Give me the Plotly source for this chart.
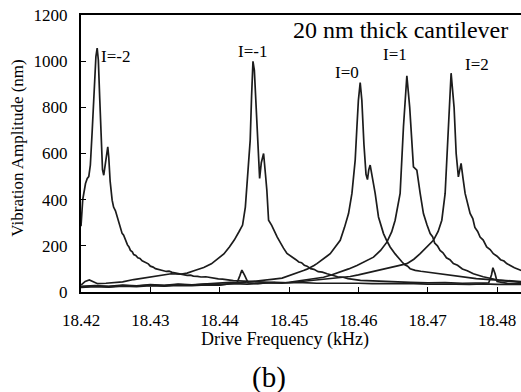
import plotly.graph_objects as go

# ---- data: (drive frequency kHz, vibration amplitude nm) ----
CURVE_I_M2 = [
    (18.4200, 285), (18.42025, 400), (18.42065, 470), (18.42090, 492), (18.42112, 500),
    (18.42135, 550), (18.42160, 690), (18.42190, 880), (18.42215, 1020), (18.42233, 1057),
    (18.42250, 1005), (18.42270, 840), (18.42290, 650), (18.42310, 530), (18.42328, 506),
    (18.42350, 560), (18.42372, 618), (18.42386, 629), (18.42400, 585), (18.42420, 480),
    (18.42449, 398), (18.42470, 368), (18.42497, 352), (18.42530, 318), (18.42560, 282),
    (18.42593, 254), (18.42615, 246), (18.42640, 222), (18.42670, 204), (18.42690, 196),
    (18.42713, 180), (18.42740, 174), (18.42760, 162), (18.42790, 158), (18.42820, 148),
    (18.42850, 145), (18.42882, 135), (18.42910, 131), (18.42940, 125), (18.42970, 122),
    (18.43000, 112), (18.43040, 108), (18.43073, 101), (18.43110, 99), (18.43150, 95),
    (18.43190, 92), (18.43230, 89), (18.43270, 90), (18.43314, 85), (18.43360, 82),
    (18.43400, 79), (18.43460, 76), (18.43530, 72), (18.43580, 73), (18.43620, 69),
    (18.43680, 68), (18.43730, 65), (18.43800, 66), (18.43865, 62), (18.43920, 60),
    (18.43980, 57), (18.44040, 56), (18.44090, 53), (18.44150, 52), (18.44197, 49),
    (18.44350, 47), (18.44480, 45), (18.44586, 43), (18.44700, 44), (18.44800, 41),
    (18.45000, 40), (18.45200, 41), (18.45400, 38), (18.45600, 39), (18.45800, 37),
    (18.46000, 38), (18.46200, 36), (18.46400, 37), (18.46600, 35), (18.46800, 36),
    (18.47000, 34), (18.47200, 35), (18.47400, 34), (18.47600, 33), (18.47800, 35),
    (18.48000, 33), (18.48200, 34), (18.48345, 33),
]

CURVE_I_M1 = [
    (18.4200, 30), (18.4206, 46), (18.4212, 52), (18.4218, 44), (18.4224, 36),
    (18.4236, 38), (18.4248, 40), (18.4260, 44), (18.4276, 54), (18.4290, 60),
    (18.4304, 68), (18.4318, 74), (18.4330, 79), (18.4343, 77), (18.4353, 82),
    (18.4365, 94), (18.4377, 106), (18.4388, 122), (18.4398, 146), (18.4406, 165),
    (18.4414, 195), (18.4421, 225), (18.4428, 262), (18.4433, 290), (18.4437, 368),
    (18.4441, 514), (18.4444, 658), (18.4446, 850), (18.4448, 999), (18.4450, 960),
    (18.4452, 820), (18.4455, 600), (18.44576, 492), (18.4460, 560), (18.44633, 600),
    (18.4466, 510), (18.4468, 441), (18.44705, 311), (18.4475, 289), (18.4483, 238),
    (18.4487, 214), (18.4492, 190), (18.4497, 167), (18.4502, 158), (18.4506, 151),
    (18.4510, 140), (18.4514, 130), (18.4518, 127), (18.4522, 116), (18.4526, 112),
    (18.4531, 101), (18.4536, 98), (18.4542, 88), (18.4548, 86), (18.4555, 79),
    (18.4562, 74), (18.4570, 66), (18.4578, 64), (18.4585, 58), (18.4603, 50),
    (18.4625, 47), (18.4650, 43), (18.4675, 42), (18.4700, 40), (18.4725, 41),
    (18.4750, 38), (18.4775, 39), (18.4788, 40), (18.4792, 75), (18.4794, 105),
    (18.4797, 80), (18.4800, 45), (18.4815, 37), (18.4835, 35),
]

CURVE_I_0 = [
    (18.4200, 24), (18.4220, 28), (18.4240, 25), (18.4260, 30), (18.4280, 27),
    (18.4300, 32), (18.4320, 29), (18.4340, 34), (18.4360, 31), (18.4380, 36),
    (18.4400, 38), (18.4415, 42), (18.4430, 40), (18.4445, 46), (18.4460, 50),
    (18.4475, 55), (18.4490, 60), (18.45018, 72), (18.4506, 75), (18.4510, 80),
    (18.4516, 88), (18.45209, 93), (18.4526, 99), (18.4530, 104), (18.4536, 115),
    (18.45402, 123), (18.4545, 133), (18.4550, 142), (18.4555, 156), (18.45594, 166),
    (18.4567, 195), (18.45738, 224), (18.4580, 280), (18.45858, 340), (18.45907, 427),
    (18.45954, 571), (18.45979, 716), (18.4600, 830), (18.46026, 907), (18.4605, 830),
    (18.4608, 640), (18.4611, 510), (18.46131, 487), (18.4615, 530), (18.4617, 550),
    (18.4620, 500), (18.46242, 427), (18.4629, 325), (18.46362, 253), (18.4641, 222),
    (18.46458, 195), (18.4653, 165), (18.46602, 137), (18.4663, 130), (18.4667, 118),
    (18.4671, 112), (18.46746, 101), (18.4682, 94), (18.4690, 90), (18.4700, 86),
    (18.4710, 82), (18.47178, 80), (18.4730, 72), (18.4745, 68), (18.47563, 64),
    (18.4770, 58), (18.4785, 55), (18.4804, 50), (18.4820, 47), (18.4835, 45),
]

CURVE_I_1 = [
    (18.4200, 20), (18.4220, 23), (18.4240, 21), (18.4260, 25), (18.4280, 23),
    (18.4300, 27), (18.4320, 25), (18.4340, 29), (18.4360, 27), (18.4380, 31),
    (18.4400, 30), (18.4418, 36), (18.4425, 40), (18.4429, 70), (18.4432, 95),
    (18.4436, 72), (18.4441, 40), (18.4455, 36), (18.4470, 40), (18.4490, 38),
    (18.45018, 43), (18.4515, 50), (18.4530, 56), (18.45498, 64), (18.4562, 75),
    (18.45738, 86), (18.4586, 100), (18.45979, 115), (18.4610, 132), (18.46218, 151),
    (18.4632, 180), (18.46411, 216), (18.4648, 260), (18.4653, 311), (18.46602, 427),
    (18.4665, 716), (18.46699, 937), (18.4674, 800), (18.46794, 542), (18.46843, 528),
    (18.46891, 427), (18.46938, 340), (18.4699, 290), (18.47035, 253), (18.4707, 240),
    (18.4710, 212), (18.4714, 200), (18.47178, 180), (18.4722, 170), (18.4727, 148),
    (18.4732, 140), (18.4737, 123), (18.4743, 116), (18.4750, 100), (18.4757, 92),
    (18.47658, 79), (18.4780, 66), (18.4795, 58), (18.48043, 50), (18.4820, 46),
    (18.4835, 42),
]

CURVE_I_2 = [
    (18.4200, 22), (18.4220, 26), (18.4240, 23), (18.4260, 28), (18.4280, 26),
    (18.4300, 30), (18.4320, 28), (18.4340, 32), (18.4360, 30), (18.4380, 34),
    (18.4400, 32), (18.4420, 36), (18.4440, 34), (18.4460, 38), (18.4480, 42),
    (18.4500, 40), (18.4520, 46), (18.4540, 50), (18.4560, 56), (18.45882, 67),
    (18.4600, 74), (18.4615, 84), (18.46314, 93), (18.4645, 104), (18.4658, 114),
    (18.46699, 123), (18.4680, 142), (18.46891, 166), (18.4699, 194), (18.47082, 224),
    (18.4715, 262), (18.47203, 311), (18.47251, 427), (18.47298, 716), (18.47337, 948),
    (18.4738, 800), (18.4741, 600), (18.47442, 499), (18.47481, 557), (18.4751, 490),
    (18.47539, 427), (18.47611, 340), (18.4765, 318), (18.4768, 280), (18.4772, 262),
    (18.47755, 238), (18.4780, 225), (18.4785, 195), (18.4790, 184), (18.47946, 166),
    (18.4800, 155), (18.4805, 140), (18.4810, 134), (18.48139, 123), (18.4825, 105),
    (18.4835, 93),
]

CURVES = [CURVE_I_M2, CURVE_I_M1, CURVE_I_0, CURVE_I_1, CURVE_I_2]

# peak labels: (text, freq, amplitude)
PEAK_LABELS = [
    ("I=-2", 18.4250, 1019),
    ("I=-1", 18.4447, 1042),
    ("I=0", 18.4584, 952),
    ("I=1", 18.4653, 1028),
    ("I=2", 18.4771, 984),
]

X_TICKS = [18.42, 18.43, 18.44, 18.45, 18.46, 18.47, 18.48]
Y_TICKS = [0, 200, 400, 600, 800, 1000, 1200]

FONT = "Liberation Serif"

fig = go.Figure()
for curve in CURVES:
    fx = [p[0] for p in curve]
    fy = [p[1] for p in curve]
    fig.add_trace(go.Scatter(x=fx, y=fy, mode="lines",
                             line=dict(color="#1c1c1c", width=1.7),
                             showlegend=False, hoverinfo="skip"))

for text, fx, fy in PEAK_LABELS:
    fig.add_annotation(x=fx, y=fy, xref="x", yref="y", text=text, showarrow=False,
                       font=dict(family=FONT, size=17, color="black"),
                       xanchor="center", yanchor="middle")

fig.add_annotation(x=18.4819, y=1136, xref="x", yref="y", text="20 nm thick cantilever",
                   showarrow=False, font=dict(family=FONT, size=24, color="black"),
                   xanchor="right", yanchor="middle")

fig.add_annotation(x=-0.145, y=0.518, xref="paper", yref="paper",
                   text="Vibration Amplitude (nm)", textangle=-90, showarrow=False,
                   font=dict(family=FONT, size=17, color="black"),
                   xanchor="center", yanchor="middle")
fig.add_annotation(x=0.4625, y=-0.173, xref="paper", yref="paper",
                   text="Drive Frequency (kHz)", showarrow=False,
                   font=dict(family=FONT, size=18, color="black"),
                   xanchor="center", yanchor="middle")
fig.add_annotation(x=0.4273, y=-0.31, xref="paper", yref="paper",
                   text="(b)", showarrow=False,
                   font=dict(family=FONT, size=29, color="black"),
                   xanchor="center", yanchor="middle")

fig.update_xaxes(range=[18.42, 18.48345], tickvals=X_TICKS,
                 ticktext=[f"{v:.2f}" for v in X_TICKS],
                 ticks="inside", ticklen=5, tickwidth=1, tickcolor="black",
                 showline=True, linecolor="black", linewidth=2, mirror=True,
                 showgrid=False, zeroline=False, ticklabelstandoff=12,
                 tickfont=dict(family=FONT, size=17, color="black"))
fig.update_yaxes(range=[0, 1200], tickvals=Y_TICKS,
                 ticks="inside", ticklen=5, tickwidth=1, tickcolor="black",
                 showline=True, linecolor="black", linewidth=2, mirror=False,
                 showgrid=False, zeroline=False, ticklabelstandoff=8,
                 tickfont=dict(family=FONT, size=17, color="black"))

fig.update_layout(width=521, height=392, margin=dict(l=81, r=0, t=15, b=100),
                  paper_bgcolor="white", plot_bgcolor="white",
                  font=dict(family=FONT, color="black"))

fig.write_html("out.html")
